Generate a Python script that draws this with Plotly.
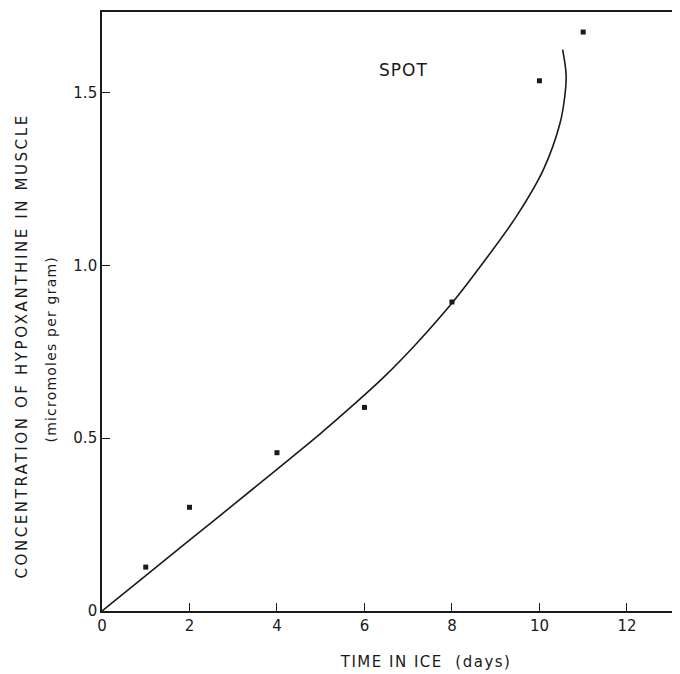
import plotly.graph_objects as go

# Observed data points (days in ice, micromoles per gram)
days = [1, 2, 4, 6, 8, 10, 11]
hypoxanthine = [0.127, 0.300, 0.458, 0.589, 0.894, 1.534, 1.675]

# Fitted curve as drawn
curve_days = [0, 1, 2, 3, 4, 5, 5.7, 6.43, 7.19, 8.02, 8.72, 9.48, 10.09, 10.47, 10.58, 10.61, 10.53]
curve_vals = [0, 0.102, 0.205, 0.307, 0.41, 0.514, 0.591, 0.675, 0.774, 0.894, 1.009, 1.143, 1.277, 1.411, 1.49, 1.55, 1.624]

x_ticks = [0, 2, 4, 6, 8, 10, 12]
y_ticks = [0, 0.5, 1.0, 1.5]
y_tick_labels = ["0", "0.5", "1.0", "1.5"]

font_family = "DejaVu Sans"
ink = "#1a1a1a"

# page is offset by the 8px body margin
OFF = 8
W, H = 680 - OFF, 674 - OFF
L, R, T, B = 102 - OFF, 8, 2, 63
pw, ph = W - L - R, H - T - B


def px_to_paper(px, py):
    fx, fy = px - OFF, py - OFF
    return (fx - L) / pw, (H - B - fy) / ph


fig = go.Figure()
fig.add_trace(go.Scatter(
    x=curve_days, y=curve_vals, mode="lines",
    line=dict(color=ink, width=1.6, shape="spline", smoothing=1.0),
    hoverinfo="skip", showlegend=False))
fig.add_trace(go.Scatter(
    x=days, y=hypoxanthine, mode="markers",
    marker=dict(symbol="square", size=5, color=ink),
    showlegend=False))

axis_common = dict(
    showgrid=False, zeroline=False, showline=True, linecolor=ink, linewidth=1.6,
    mirror=True, ticks="inside", ticklen=8, tickwidth=1.4, tickcolor=ink,
    tickfont=dict(family=font_family, size=15, color=ink),
)
fig.update_xaxes(range=[0, 13.03], tickvals=x_ticks, ticktext=[str(v) for v in x_ticks], **axis_common)
fig.update_yaxes(range=[0, 1.733], tickvals=y_ticks, ticktext=y_tick_labels, **axis_common)

fig.add_annotation(x=6.9, y=1.565, xref="x", yref="y", text="SPOT", showarrow=False,
                   xanchor="center", yanchor="middle",
                   font=dict(family=font_family, size=17, color=ink))

xt = px_to_paper(425, 662)
fig.add_annotation(x=xt[0], y=xt[1], xref="paper", yref="paper",
                   text="TIME IN ICE  (days)", showarrow=False,
                   xanchor="center", yanchor="middle",
                   font=dict(family=font_family, size=15, color=ink))
yt1 = px_to_paper(22, 345)
fig.add_annotation(x=yt1[0], y=yt1[1], xref="paper", yref="paper", textangle=-90,
                   text="CONCENTRATION OF HYPOXANTHINE IN MUSCLE",
                   xanchor="center", yanchor="middle",
                   showarrow=False, font=dict(family=font_family, size=15, color=ink))
yt2 = px_to_paper(51, 349)
fig.add_annotation(x=yt2[0], y=yt2[1], xref="paper", yref="paper", textangle=-90,
                   text="(micromoles per gram)", showarrow=False,
                   xanchor="center", yanchor="middle",
                   font=dict(family=font_family, size=14, color=ink))

fig.update_layout(
    width=W, height=H, margin=dict(l=L, r=R, t=T, b=B),
    paper_bgcolor="white", plot_bgcolor="white",
)

post = """
var gd = document.getElementById('{plot_id}');
var anns = gd.querySelectorAll('.annotation-text');
var sp = ['1px', '1.5px', '2.6px', '1.2px'];
anns.forEach(function(e, i){ e.style.letterSpacing = sp[i] || '1px'; e.setAttribute('xml:space','preserve'); e.style.whiteSpace='pre'; });
"""
fig.write_html("out.html", post_script=post)
